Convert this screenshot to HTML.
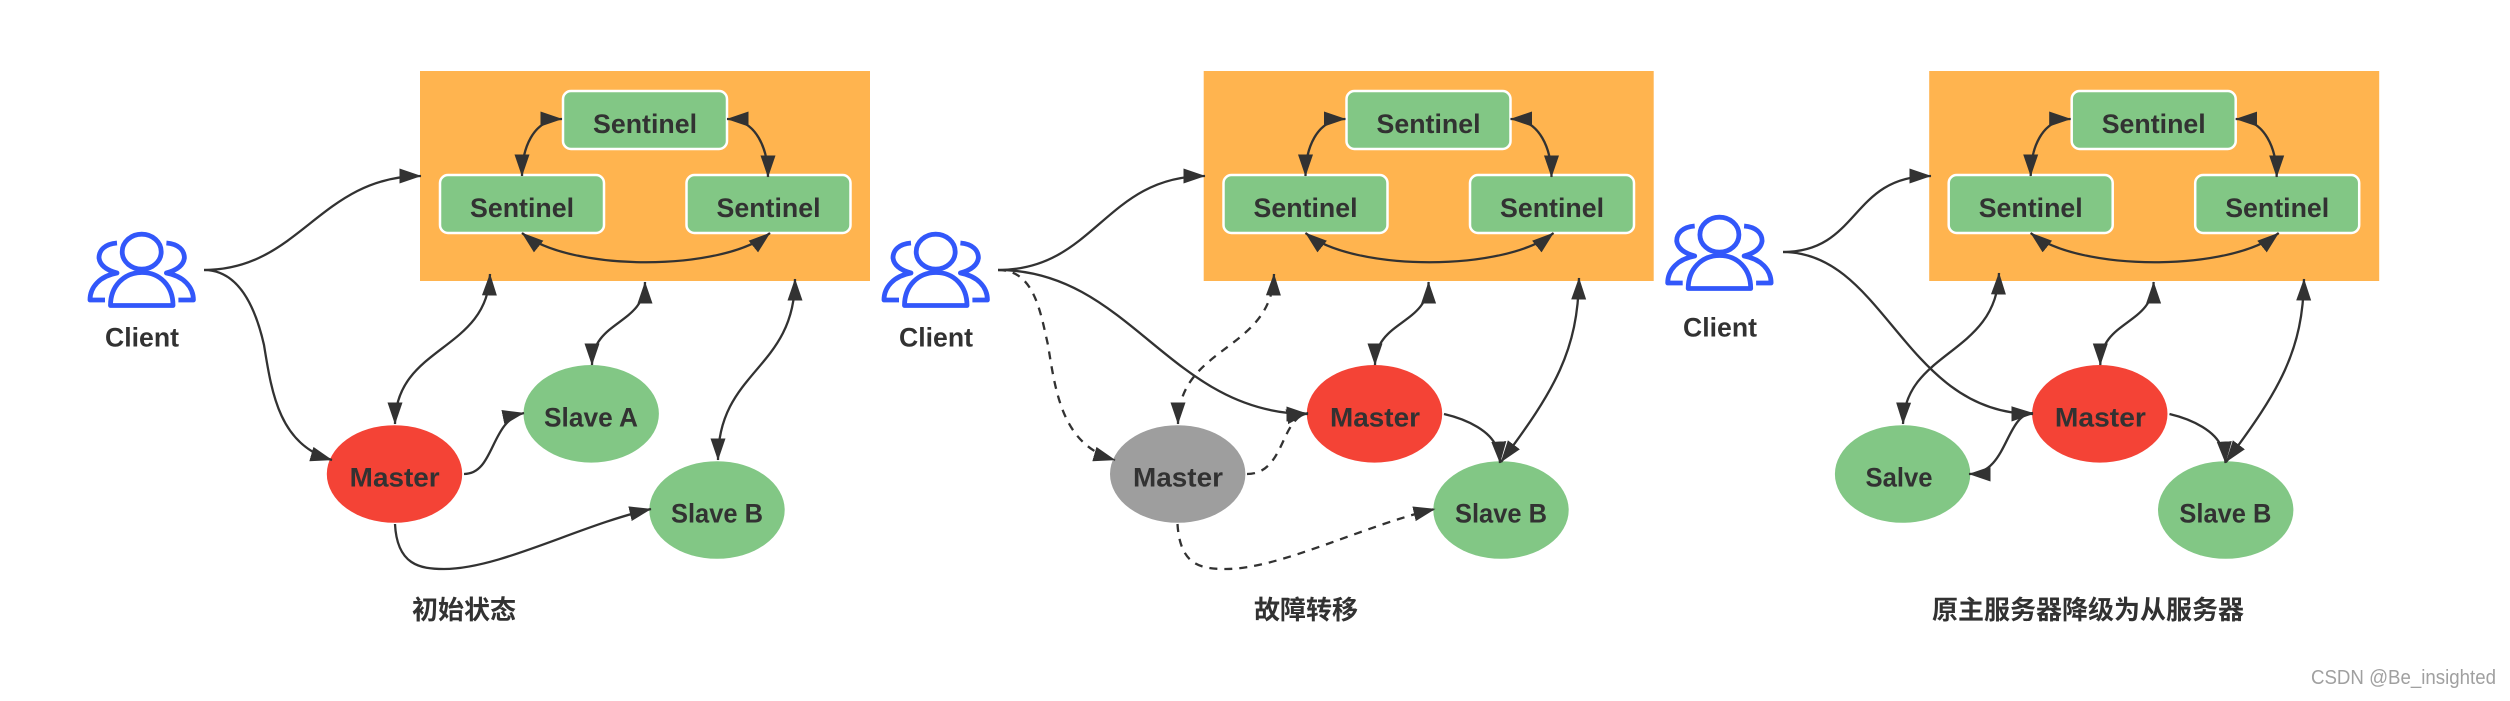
<!DOCTYPE html>
<html><head><meta charset="utf-8"><title>Redis Sentinel</title>
<style>
html,body{margin:0;padding:0;background:#fff;width:2510px;height:701px;overflow:hidden}
svg{display:block}
text{font-family:"Liberation Sans","Noto Sans CJK SC",sans-serif;font-weight:bold;fill:#323232;font-size:26.5px;text-anchor:middle}
.c{fill:none;stroke:#323232;stroke-width:2.3}
.d{fill:none;stroke:#323232;stroke-width:2.3;stroke-dasharray:8 7}
.e{marker-end:url(#a)}
.b{marker-start:url(#a);marker-end:url(#a)}
.s{fill:#82C785;stroke:#fff;stroke-width:2.5}
.i{fill:none;stroke:#3257FA;stroke-width:4.8;stroke-linejoin:round}
.cap{font-size:26px}
</style></head><body>
<svg width="2510" height="701" viewBox="0 0 2510 701" xmlns="http://www.w3.org/2000/svg">
<defs><marker id="a" markerUnits="userSpaceOnUse" markerWidth="24" markerHeight="16" refX="21.5" refY="8" orient="auto-start-reverse"><path d="M0,0.5L22,8L0,15.5Z" fill="#323232"/></marker></defs>

<!-- Panel 1 -->
<rect x="420" y="71" width="450" height="210" fill="#FFB44F"/>
<g>
<rect class="s" x="563" y="91" width="164" height="58" rx="8"/><rect class="s" x="440" y="175" width="164" height="58" rx="8"/><rect class="s" x="686.5" y="175" width="164" height="58" rx="8"/>
<text x="645" y="133" textLength="104" lengthAdjust="spacingAndGlyphs">Sentinel</text>
<text x="522" y="217" textLength="104" lengthAdjust="spacingAndGlyphs">Sentinel</text>
<text x="768.5" y="217" textLength="104" lengthAdjust="spacingAndGlyphs">Sentinel</text>
<path class="c b" d="M562,119C532,119 522,150 522,176"/>
<path class="c b" d="M727,119C757,119 768,150 768,177"/>
<path class="c b" d="M522,233C570,272 722,272 770,233"/>
</g>
<g>
<ellipse class="i" cx="141.7" cy="251.7" rx="19.5" ry="17.5"/>
<path class="i" d="M110.5,305.5C110.5,286 124,272.5 142,272.5C160,272.5 173,286 173,305.5Z"/>
<path class="i" d="M117,243C105,244 99,250 99,258C100,265 106,270 117,273C100,276 90,287 90,300L105,300"/>
<path class="i" d="M166.4,243C178.4,244 184.4,250 184.4,258C183.4,265 177.4,270 166.4,273C183.4,276 193.4,287 193.4,300L178.4,300"/>
</g>
<text x="142" y="346.5" textLength="74" lengthAdjust="spacingAndGlyphs">Client</text>
<ellipse cx="394.5" cy="474" rx="67.7" ry="48.8" fill="#F44336"/>
<ellipse cx="591.2" cy="413.8" rx="67.7" ry="48.8" fill="#82C785"/>
<ellipse cx="717" cy="510" rx="67.7" ry="48.8" fill="#82C785"/>
<text x="394.7" y="486.5" textLength="90" lengthAdjust="spacingAndGlyphs">Master</text>
<text x="591" y="426.5" textLength="94" lengthAdjust="spacingAndGlyphs">Slave A</text>
<text x="717" y="522.5" textLength="92" lengthAdjust="spacingAndGlyphs">Slave B</text>
<text class="cap" x="464" y="619">初始状态</text>
<path class="c e" d="M204,270C300,270 320,176 421,176"/>
<path class="c e" d="M204,270C240,270 256,310 264,345C272,395 280,445 332,460"/>
<path class="c b" d="M490,274C488,352 395,345 395,424"/>
<path class="c b" d="M645,282C645,325 592,320 592,365"/>
<path class="c b" d="M795,279C795,370 718,370 718,460"/>
<path class="c e" d="M464,474C495,474 490,420 524,413"/>
<path class="c e" d="M395,524C397,565 420,569 444,569C500,569 580,525 651,509"/>

<!-- Panel 2 -->
<rect x="1203.7" y="71" width="450" height="210" fill="#FFB44F"/>
<g transform="translate(783.5,0)">
<rect class="s" x="563" y="91" width="164" height="58" rx="8"/><rect class="s" x="440" y="175" width="164" height="58" rx="8"/><rect class="s" x="686.5" y="175" width="164" height="58" rx="8"/>
<text x="645" y="133" textLength="104" lengthAdjust="spacingAndGlyphs">Sentinel</text>
<text x="522" y="217" textLength="104" lengthAdjust="spacingAndGlyphs">Sentinel</text>
<text x="768.5" y="217" textLength="104" lengthAdjust="spacingAndGlyphs">Sentinel</text>
<path class="c b" d="M562,119C532,119 522,150 522,176"/>
<path class="c b" d="M727,119C757,119 768,150 768,177"/>
<path class="c b" d="M522,233C570,272 722,272 770,233"/>
</g>
<g transform="translate(794,0)">
<ellipse class="i" cx="141.7" cy="251.7" rx="19.5" ry="17.5"/>
<path class="i" d="M110.5,305.5C110.5,286 124,272.5 142,272.5C160,272.5 173,286 173,305.5Z"/>
<path class="i" d="M117,243C105,244 99,250 99,258C100,265 106,270 117,273C100,276 90,287 90,300L105,300"/>
<path class="i" d="M166.4,243C178.4,244 184.4,250 184.4,258C183.4,265 177.4,270 166.4,273C183.4,276 193.4,287 193.4,300L178.4,300"/>
</g>
<text x="936" y="346.5" textLength="74" lengthAdjust="spacingAndGlyphs">Client</text>
<ellipse cx="1374.5" cy="413.8" rx="67.7" ry="48.8" fill="#F44336"/>
<ellipse cx="1177.7" cy="474" rx="67.7" ry="48.8" fill="#9E9E9E"/>
<ellipse cx="1501" cy="510" rx="67.7" ry="48.8" fill="#82C785"/>
<text x="1375" y="426.5" textLength="90" lengthAdjust="spacingAndGlyphs">Master</text>
<text x="1178" y="486.5" textLength="90" lengthAdjust="spacingAndGlyphs">Master</text>
<text x="1501" y="522.5" textLength="92" lengthAdjust="spacingAndGlyphs">Slave B</text>
<text class="cap" x="1306" y="619">故障转移</text>
<path class="c e" d="M998,270C1095,270 1105,176 1205,176"/>
<path class="c e" d="M998,270C1130,270 1170,414 1308,414"/>
<path class="d e" d="M998,270C1034,270 1040,310 1048,345C1056,395 1063,445 1115,460"/>
<path class="d b" d="M1274,274C1272,352 1178,345 1178,424"/>
<path class="c b" d="M1428.6,282C1428.6,325 1375,320 1375,365"/>
<path class="c b" d="M1579,278C1578,350 1555,390 1501,462"/>
<path class="c" d="M1444,414C1470,420 1490,432 1496,446"/>
<path class="c e" d="M1499,445L1500,463"/>
<path class="d e" d="M1247,474C1285,474 1280,418 1308,413"/>
<path class="d e" d="M1177.5,524C1180,565 1200,569 1226,569C1280,569 1365,525 1435,509"/>

<!-- Panel 3 -->
<rect x="1929.2" y="71" width="450" height="210" fill="#FFB44F"/>
<g transform="translate(1508.7,0)">
<rect class="s" x="563" y="91" width="164" height="58" rx="8"/><rect class="s" x="440" y="175" width="164" height="58" rx="8"/><rect class="s" x="686.5" y="175" width="164" height="58" rx="8"/>
<text x="645" y="133" textLength="104" lengthAdjust="spacingAndGlyphs">Sentinel</text>
<text x="522" y="217" textLength="104" lengthAdjust="spacingAndGlyphs">Sentinel</text>
<text x="768.5" y="217" textLength="104" lengthAdjust="spacingAndGlyphs">Sentinel</text>
<path class="c b" d="M562,119C532,119 522,150 522,176"/>
<path class="c b" d="M727,119C757,119 768,150 768,177"/>
<path class="c b" d="M522,233C570,272 722,272 770,233"/>
</g>
<g transform="translate(1577.7,-17)">
<ellipse class="i" cx="141.7" cy="251.7" rx="19.5" ry="17.5"/>
<path class="i" d="M110.5,305.5C110.5,286 124,272.5 142,272.5C160,272.5 173,286 173,305.5Z"/>
<path class="i" d="M117,243C105,244 99,250 99,258C100,265 106,270 117,273C100,276 90,287 90,300L105,300"/>
<path class="i" d="M166.4,243C178.4,244 184.4,250 184.4,258C183.4,265 177.4,270 166.4,273C183.4,276 193.4,287 193.4,300L178.4,300"/>
</g>
<text x="1720" y="336.5" textLength="74" lengthAdjust="spacingAndGlyphs">Client</text>
<ellipse cx="2099.8" cy="413.8" rx="67.7" ry="48.8" fill="#F44336"/>
<ellipse cx="1902.6" cy="474" rx="67.7" ry="48.8" fill="#82C785"/>
<ellipse cx="2225.7" cy="510" rx="67.7" ry="48.8" fill="#82C785"/>
<text x="2100.4" y="426.5" textLength="91" lengthAdjust="spacingAndGlyphs">Master</text>
<text x="1899" y="486.5" textLength="67" lengthAdjust="spacingAndGlyphs">Salve</text>
<text x="2225.4" y="522.5" textLength="92" lengthAdjust="spacingAndGlyphs">Slave B</text>
<text class="cap" x="2088" y="619">原主服务器降级为从服务器</text>
<path class="c e" d="M1783,252C1860,252 1850,176 1931,176"/>
<path class="c e" d="M1783,252C1885,252 1905,414 2033,414"/>
<path class="c b" d="M1999,273C1997,355 1905,350 1903,424"/>
<path class="c b" d="M2153.6,282C2153.6,325 2100.3,320 2100.3,365"/>
<path class="c b" d="M2304,279C2303,350 2280,390 2226,462"/>
<path class="c" d="M2169.5,414C2195,420 2215,432 2221,446"/>
<path class="c e" d="M2224.5,445L2225.5,463"/>
<path class="c b" d="M2033,413C2005,414 2008,474 1969,474"/>
<text x="2403.5" y="684" textLength="185" lengthAdjust="spacingAndGlyphs" style="font-weight:normal;font-size:20px;fill:#a0a0a0">CSDN @Be_insighted</text>
</svg>
</body></html>
